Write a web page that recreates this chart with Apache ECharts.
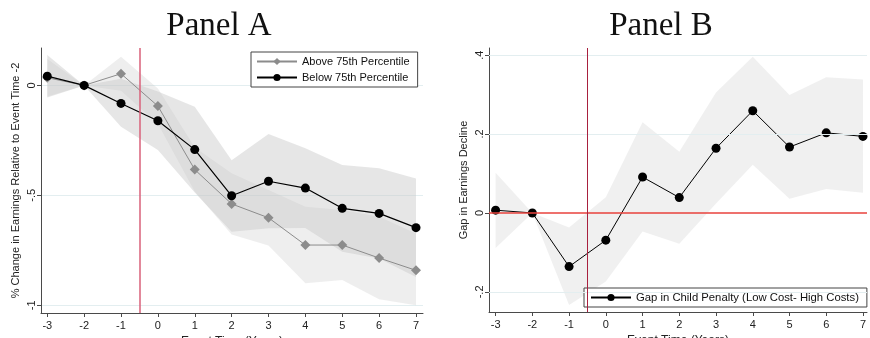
<!DOCTYPE html>
<html>
<head>
<meta charset="utf-8">
<script src="https://cdn.jsdelivr.net/npm/echarts@6/dist/echarts.min.js"></script>
<style>
html,body{margin:0;padding:0;background:#fff;}
#chart{width:870px;height:338px;}
</style>
</head>
<body>
<div id="chart"></div>
<script>
// ---- data ----
var years = [-3, -2, -1, 0, 1, 2, 3, 4, 5, 6, 7];
var aboveVals = [0.035, 0, 0.053, -0.094, -0.383, -0.539, -0.602, -0.726, -0.726, -0.785, -0.841];
var aboveLo   = [-0.05, 0, -0.024, -0.174, -0.483, -0.678, -0.728, -0.90, -0.885, -0.973, -1.0];
var aboveHi   = [0.12, 0, 0.13, -0.014, -0.283, -0.40, -0.476, -0.552, -0.567, -0.597, -0.673];
var belowVals = [0.042, 0, -0.082, -0.161, -0.292, -0.502, -0.436, -0.467, -0.559, -0.582, -0.647];
var belowLo   = [-0.055, 0, -0.188, -0.294, -0.487, -0.665, -0.65, -0.648, -0.756, -0.787, -0.871];
var belowHi   = [0.138, 0, 0.03, -0.028, -0.097, -0.34, -0.221, -0.286, -0.362, -0.377, -0.423];
var gapVals = [0.007, 0, -0.136, -0.069, 0.091, 0.039, 0.164, 0.259, 0.167, 0.203, 0.194];
var gapLo   = [-0.089, 0, -0.233, -0.174, -0.047, -0.078, 0.024, 0.122, 0.036, 0.061, 0.051];
var gapHi   = [0.102, 0, -0.037, 0.040, 0.23, 0.155, 0.305, 0.396, 0.299, 0.344, 0.338];

var xTicks = [-3, -2, -1, 0, 1, 2, 3, 4, 5, 6, 7];
var yTicksA = [-1, -0.5, 0];
var yTickLabelsA = ['-1', '-.5', '0'];
var yTicksB = [-0.2, 0, 0.2, 0.4];
var yTickLabelsB = ['-.2', '0', '.2', '.4'];

var nameAbove = 'Above 75th Percentile';
var nameBelow = 'Below 75th Percentile';
var nameGap = 'Gap in Child Penalty (Low Cost- High Costs)';
var titleA = 'Panel A';
var titleB = 'Panel B';
var xTitle = 'Event Time (Years)';
var yTitleA = '% Change in Earnings Relative to Event Time -2';
var yTitleB = 'Gap in Earnings Decline';
var eventLine = -0.5;

// ---- helpers ----
function pts(vals) { return years.map(function (x, i) { return [x, vals[i]]; }); }
function bandData(lo, hi) { return years.map(function (x, i) { return [x, lo[i], hi[i]]; }); }
function bandSeries(lo, hi, xi, yi, fill) {
  return {
    type: 'custom', xAxisIndex: xi, yAxisIndex: yi, silent: true, z: 1,
    data: bandData(lo, hi),
    encode: { x: 0, y: [1, 2] },
    renderItem: function (params, api) {
      if (params.dataIndex !== 0) return null;
      var up = [], dn = [];
      for (var i = 0; i < years.length; i++) {
        up.push(api.coord([years[i], hi[i]]));
        dn.push(api.coord([years[i], lo[i]]));
      }
      return { type: 'polygon', shape: { points: up.concat(dn.reverse()) }, style: { fill: fill } };
    }
  };
}
function labelMap(ticks, labels) {
  return function (v) {
    for (var i = 0; i < ticks.length; i++) if (Math.abs(ticks[i] - v) < 1e-9) return labels[i];
    return '';
  };
}
var txt = '#222';
var axisCol = '#4a4a4a';
var fontS = 'Liberation Sans, Arial, sans-serif';
function xAxisCfg(gi, min, max) {
  return {
    type: 'value', gridIndex: gi, min: min, max: max,
    name: xTitle, nameLocation: 'middle', nameGap: 18,
    nameTextStyle: { fontFamily: fontS, fontSize: 12, color: txt, verticalAlign: 'top' },
    axisLine: { show: true, onZero: false, lineStyle: { color: axisCol, width: 1 } },
    axisTick: { show: true, length: 4, lineStyle: { color: axisCol }, customValues: xTicks },
    axisLabel: { fontFamily: fontS, fontSize: 11, color: txt, margin: 7, customValues: xTicks,
      formatter: function (v) { return String(v); } },
    splitLine: { show: false }
  };
}
function yAxisCfg(gi, min, max, ticks, labels, title, gap) {
  return {
    type: 'value', gridIndex: gi, min: min, max: max,
    name: title, nameLocation: 'middle', nameGap: gap, nameRotate: 90,
    nameTextStyle: { fontFamily: fontS, fontSize: 11, color: txt },
    axisLine: { show: true, onZero: false, lineStyle: { color: axisCol, width: 1 } },
    axisTick: { show: true, length: 4, lineStyle: { color: axisCol }, customValues: ticks },
    axisLabel: { fontFamily: fontS, fontSize: 11, color: txt, margin: 4, rotate: 90,
      customValues: ticks, formatter: labelMap(ticks, labels) },
    splitLine: { show: false }
  };
}
function gridLines(vals) {
  return vals.map(function (v) { return { yAxis: v }; });
}

var chart = echarts.init(document.getElementById('chart'), null, { renderer: 'canvas' });
var option = {
  animation: false,
  backgroundColor: '#fff',
  title: [
    { text: titleA, left: 214, top: 5, textAlign: 'center',
      textStyle: { fontFamily: 'Liberation Serif, serif', fontSize: 33, fontWeight: 'normal', color: '#111' } },
    { text: titleB, left: 656, top: 5, textAlign: 'center',
      textStyle: { fontFamily: 'Liberation Serif, serif', fontSize: 33, fontWeight: 'normal', color: '#111' } }
  ],
  grid: [
    { left: 41, top: 48, width: 382, height: 265, containLabel: false, outerBoundsMode: 'none' },
    { left: 489, top: 48, width: 378, height: 264, containLabel: false, outerBoundsMode: 'none' }
  ],
  legend: [
    { data: [nameAbove, nameBelow], orient: 'vertical', left: 251, top: 52,
      itemWidth: 40, itemHeight: 9, itemGap: 5, padding: [4, 8, 4, 5],
      borderColor: '#444', borderWidth: 1, backgroundColor: '#fff',
      textStyle: { fontFamily: fontS, fontSize: 11, color: '#111' } },
    { data: [nameGap], orient: 'horizontal', left: 584, top: 288,
      itemWidth: 40, itemHeight: 9, padding: [4, 8, 4, 6],
      borderColor: '#444', borderWidth: 1, backgroundColor: '#fff',
      textStyle: { fontFamily: fontS, fontSize: 11.3, color: '#111' } }
  ],
  xAxis: [ xAxisCfg(0, -3.17, 7.19), xAxisCfg(1, -3.18, 7.11) ],
  yAxis: [
    yAxisCfg(0, -1.035, 0.17, yTicksA, yTickLabelsA, yTitleA, 20),
    yAxisCfg(1, -0.251, 0.418, yTicksB, yTickLabelsB, yTitleB, 20)
  ],
  series: [
    bandSeries(aboveLo, aboveHi, 0, 0, 'rgba(200,200,200,0.30)'),
    bandSeries(belowLo, belowHi, 0, 0, 'rgba(200,200,200,0.45)'),
    bandSeries(gapLo, gapHi, 1, 1, 'rgba(200,200,200,0.28)'),
    {
      name: nameAbove, type: 'line', xAxisIndex: 0, yAxisIndex: 0, z: 3,
      data: pts(aboveVals), symbol: 'diamond', symbolSize: 10, showSymbol: true,
      lineStyle: { color: '#8c8c8c', width: 1 }, itemStyle: { color: '#8c8c8c' },
      markLine: { silent: true, symbol: ['none', 'none'], label: { show: false }, animation: false, z: 0,
        lineStyle: { color: '#e3eef0', width: 1, type: 'solid' },
        data: gridLines(yTicksA) }
    },
    {
      name: nameBelow, type: 'line', xAxisIndex: 0, yAxisIndex: 0, z: 4,
      data: pts(belowVals), symbol: 'circle', symbolSize: 9, showSymbol: true,
      lineStyle: { color: '#000', width: 1.2 }, itemStyle: { color: '#000' },
      markLine: { silent: true, symbol: ['none', 'none'], label: { show: false }, animation: false,
        lineStyle: { color: '#d9607a', width: 1.5, type: 'solid' },
        data: [{ xAxis: eventLine }] }
    },
    {
      name: nameGap, type: 'line', xAxisIndex: 1, yAxisIndex: 1, z: 4,
      data: pts(gapVals), symbol: 'circle', symbolSize: 9, showSymbol: true,
      lineStyle: { color: '#000', width: 1 }, itemStyle: { color: '#000' },
      markLine: { silent: true, symbol: ['none', 'none'], label: { show: false }, animation: false,
        data: [
          { yAxis: 0.4, lineStyle: { color: '#e3eef0', width: 1, type: 'solid' } },
          { yAxis: 0.2, lineStyle: { color: '#e3eef0', width: 1, type: 'solid' } },
          { yAxis: -0.2, lineStyle: { color: '#e3eef0', width: 1, type: 'solid' } },
          { yAxis: 0, lineStyle: { color: '#e8423c', width: 1.5, type: 'solid' } },
          { xAxis: eventLine, lineStyle: { color: '#a8203e', width: 1, type: 'solid' } }
        ] }
    }
  ]
};
chart.setOption(option);
</script>
</body>
</html>
